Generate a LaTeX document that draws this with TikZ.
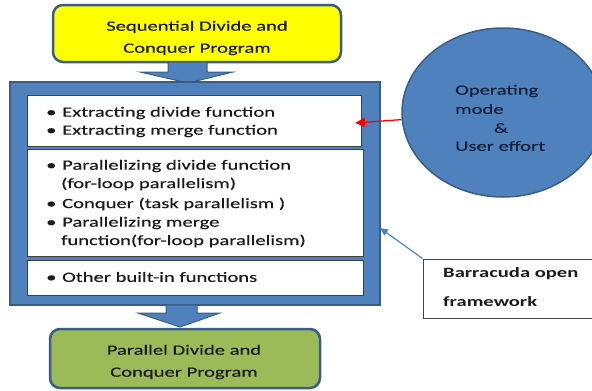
\documentclass[tikz,border=0pt]{standalone}
\usepackage{fontspec}
\setmainfont{Carlito}[FakeStretch=1.45, UprightFeatures={FakeBold=0.35}]
\usetikzlibrary{arrows.meta,shapes.geometric}
\definecolor{frameblue}{HTML}{4F81BD}
\definecolor{edgeblue}{HTML}{385D8A}
\definecolor{ylw}{HTML}{FFFF00}
\definecolor{grn}{HTML}{9BBB59}
\definecolor{txtc}{HTML}{1A1A1A}
\definecolor{elltxt}{HTML}{14213D}
\newcommand{\bul}{\makebox[16pt][l]{\textbullet}}
\tikzset{
  prog/.style={draw=edgeblue, line width=2.5pt, rounded corners=10pt, inner sep=0pt},
  frm/.style={draw=edgeblue, fill=frameblue, line width=1.5pt, inner sep=0pt},
  wbox/.style={draw=black!75, fill=white, line width=1pt, inner sep=0pt},
  blk/.style={draw=edgeblue, fill=frameblue, line width=1pt},
  txt/.style={inner sep=0pt, text=txtc, font=\fontsize{14.2}{18}\selectfont},
  ctxt/.style={inner sep=0pt, text=txtc, align=center, font=\fontsize{14.2}{22}\selectfont},
}
\begin{document}
\begin{tikzpicture}[x=1pt,y=-1pt]
\useasboundingbox (0,0) rectangle (592,391);
\clip (0,0) rectangle (592,391);
% top program box
\node[prog, fill=ylw, minimum width=288pt, minimum height=57pt] (seq) at (197,33.5) {};
\node[ctxt] (seqt) at (197,38) {Sequential Divide and\\Conquer Program};
% top block arrow
\draw[blk] (168,62) -- (207,62) -- (207,72) -- (233,72) -- (188,83) -- (140,72) -- (168,72) -- cycle;
% big frame
\node[frm, minimum width=370pt, minimum height=223pt] (frame) at (195,193.5) {};
% white boxes
\node[wbox, minimum width=334pt, minimum height=51pt] (box1) at (194,120.5) {};
\node[wbox, minimum width=336pt, minimum height=107pt] (box2) at (195,202.5) {};
\node[wbox, minimum width=336pt, minimum height=35pt] (box3) at (195,277.5) {};
% box1 text
\node[txt, anchor=west] (l1) at (46,113) {\bul Extracting divide function};
\node[txt, anchor=west] (l2) at (46,131) {\bul Extracting merge function};
% box2 text
\node[txt, anchor=west] (l3) at (46,166) {\bul Parallelizing divide function};
\node[txt, anchor=west] (l4) at (61,184) {(for-loop parallelism)};
\node[txt, anchor=west] (l5) at (46,204) {\bul Conquer (task parallelism )};
\node[txt, anchor=west] (l6) at (46,223) {\bul Parallelizing merge};
\node[txt, anchor=west] (l7) at (61,241) {function(for-loop parallelism)};
% box3 text
\node[txt, anchor=west] (l8) at (46,277) {\bul Other built-in functions};
% bottom block arrow
\draw[blk] (166,305) -- (197,305) -- (197,313) -- (220,313) -- (180,327) -- (138,313) -- (166,313) -- cycle;
% bottom program box
\node[prog, fill=grn, minimum width=270pt, minimum height=59pt] (par) at (185,358.5) {};
\node[ctxt] (part) at (184,362) {Parallel Divide and\\Conquer Program};
% ellipse
\node[ellipse, draw=edgeblue, fill=frameblue, line width=1.5pt, minimum width=202pt, minimum height=169pt, inner sep=0pt] (ell) at (503,112.5) {};
\node[txt, anchor=west, text=elltxt] (e1) at (455,91) {Operating};
\node[txt, anchor=west, text=elltxt] (e2) at (455,109) {mode};
\node[txt, text=elltxt] (e3) at (501,128) {\&};
\node[txt, anchor=west, text=elltxt] (e4) at (455,146) {User effort};
% red arrow
\coordinate (redend) at (355,123);
\draw[red, line width=1.3pt, -{Triangle[length=10pt,width=9pt]}] (ell.184) -- (redend);
% barracuda box
\node[draw=black!75, fill=white, line width=1pt, minimum width=180pt, minimum height=59pt, inner sep=0pt] (barr) at (513,288.5) {};
\node[txt, anchor=west, font=\fontsize{14.2}{18}\selectfont\bfseries] (b1) at (443,274) {Barracuda open};
\node[txt, anchor=west, font=\fontsize{14.2}{18}\selectfont\bfseries] (b2) at (443,302) {framework};
% blue arrow
\coordinate (blueend) at (380,228);
\draw[frameblue, line width=1.2pt, -{Triangle[length=8pt,width=7pt]}] (barr.north west) -- (blueend);
\end{tikzpicture}
\end{document}
